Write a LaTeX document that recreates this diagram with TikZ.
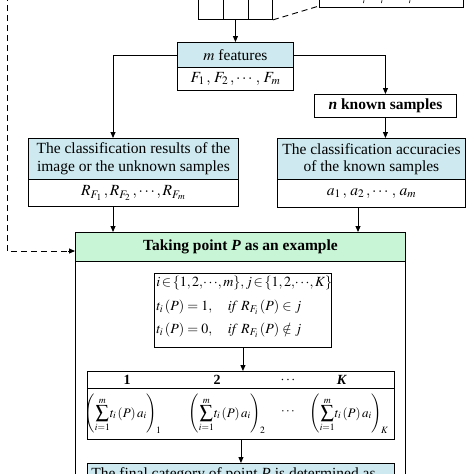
\documentclass[tikz,border=0pt]{standalone}
\usepackage{mathptmx}
\usepackage{fontspec}
\setmainfont{Liberation Serif}
\usetikzlibrary{arrows.meta}
\definecolor{lblue}{RGB}{206,234,240}
\definecolor{lgreen}{RGB}{200,245,214}
\newcommand{\fbig}{\fontsize{15.5}{17.5}\selectfont}
\newcommand{\fmid}{\fontsize{14}{23}\selectfont}
\newcommand{\finner}{\fontsize{14}{23.5}\selectfont}
\newcommand{\sumexpr}[1]{$\displaystyle\left(\sum_{i=1}^{m}\!t_i\,(P)\,a_i\right)_{\!#1}$}
\begin{document}
\begin{tikzpicture}[x={(1pt,0)}, y={(0,-1pt)}, line width=0.9pt,
  box/.style={draw, rectangle, inner sep=0pt, align=center, anchor=north west, font=\fbig},
  arr/.style={-{Triangle[length=6pt,width=5pt]}},
  dsh/.style={dash pattern=on 6pt off 4pt},
  sumtxt/.style={font=\fontsize{13}{14}\selectfont, inner sep=0pt}]
\useasboundingbox (0,0) rectangle (474,474);
\clip (0,0) rectangle (474,474);
% top cropped elements
\node[box, minimum width=74pt, minimum height=35pt] (arrb) at (198,-16) {};
\draw (223,-16) -- (223,19);
\draw (248,-16) -- (248,19);
\node[box, minimum width=144pt, minimum height=37pt] (topb) at (319,-30) {};
\draw[line width=0.6pt] (364,0) -- (363.5,3);
\draw[line width=0.6pt] (382,0) -- (381.5,3);
\draw[line width=0.6pt] (410,0) -- (409.5,3);
\coordinate (tbl) at (319,6);
\draw[dsh] (arrb.south east) -- (tbl);
% m features
\node[box, fill=lblue, minimum width=116pt, minimum height=25pt] (mfh) at (177,42) {$m$ features};
\node[box, minimum width=116pt, minimum height=23pt] (mfb) at (177,67) {$F_{1}\,,\,F_{2}\,,\cdots\,,\,F_{m}$};
% n known samples
\node[box, minimum width=142pt, minimum height=23pt] (nks) at (314,94) {\textbf{\textit{n} known samples}};
% classification results
\node[box, fill=lblue, minimum width=210pt, minimum height=41pt] (crh) at (28,138) {The classification results of the\\image or the unknown samples};
\node[box, minimum width=210pt, minimum height=27pt] (crb) at (28,179) {$R_{F_1}\,,R_{F_2}\,,\cdots,R_{F_m}$};
% classification accuracies
\node[box, fill=lblue, minimum width=188pt, minimum height=41pt] (cah) at (277,138) {The classification accuracies\\of the known samples};
\node[box, minimum width=188pt, minimum height=28pt] (cab) at (277,179) {$a_{1}\,,\,a_{2}\,,\cdots\,,\,a_{m}$};
% outer green-headed box
\node[box, minimum width=330pt, minimum height=260pt] (outer) at (75,232) {};
\node[box, fill=lgreen, minimum width=330pt, minimum height=29pt] (gh) at (75,232) {\textbf{Taking point \textit{P} as an example}};
% inner math box
\node[box, minimum width=177pt, minimum height=74pt] (inner) at (154,273) {};
\node[anchor=north west, inner sep=0pt, align=left, font=\finner] (innert) at (156,276) {%
$i\!\in\!\{1,2,\!\cdots\!,m\},j\!\in\!\{1,2,\!\cdots\!,K\}$\\
$t_i\,(P)=1,\quad \mathit{if}\ R_{F_i}\,(P)\in j$\\
$t_i\,(P)=0,\quad \mathit{if}\ R_{F_i}\,(P)\notin j$};
% table
\node[box, minimum width=307pt, minimum height=17pt] (th) at (87,371) {};
\node[box, minimum width=307pt, minimum height=51pt] (tb) at (87,388) {};
\node[font=\fmid\bfseries, inner sep=0pt] (h1) at (127,380) {1};
\node[font=\fmid\bfseries, inner sep=0pt] (h2) at (217,380) {2};
\node[font=\fmid\bfseries, inner sep=0pt] (h3) at (288,380) {$\cdots$};
\node[font=\fmid\bfseries, inner sep=0pt] (h4) at (342,380) {\textbf{\textit{K}}};
\node[sumtxt] (s1) at (123,414) {\sumexpr{1}};
\node[sumtxt] (s2) at (227,414) {\sumexpr{2}};
\node[sumtxt] (s3) at (288,412) {$\cdots$};
\node[sumtxt] (s4) at (349,414) {\sumexpr{K}};
% final
\node[box, fill=lblue, minimum width=307pt, minimum height=30pt] (fin) at (87,463) {};
\node[anchor=north west, inner sep=0pt, font=\fbig] (fint) at (91,467) {The final category of point \textit{P} is determined as};
% connectors
\draw[arr] (arrb.south) -- (mfh.north);
\draw[arr] (mfh.west) -| (crh.north -| 113,0);
\draw[arr] (mfh.east) -| (nks.north);
\draw[arr] (nks.south) -- (nks.south |- cah.north);
\coordinate (cl) at (113,206);
\coordinate (gl) at (113,232);
\draw[arr] (cl) -- (gl);
\coordinate (cr) at (358,207);
\coordinate (gr) at (358,232);
\draw[arr] (cr) -- (gr);
\draw[arr] (inner.south) -- (inner.south |- th.north);
\draw[arr] (tb.south) -- (fin.north);
\coordinate (dtop) at (7,-5);
\coordinate (dend) at (75,251);
\draw[dsh] (dtop) -- (7,251) -- (68,251);
\draw[arr] (68,251) -- (dend);
\end{tikzpicture}
\end{document}
